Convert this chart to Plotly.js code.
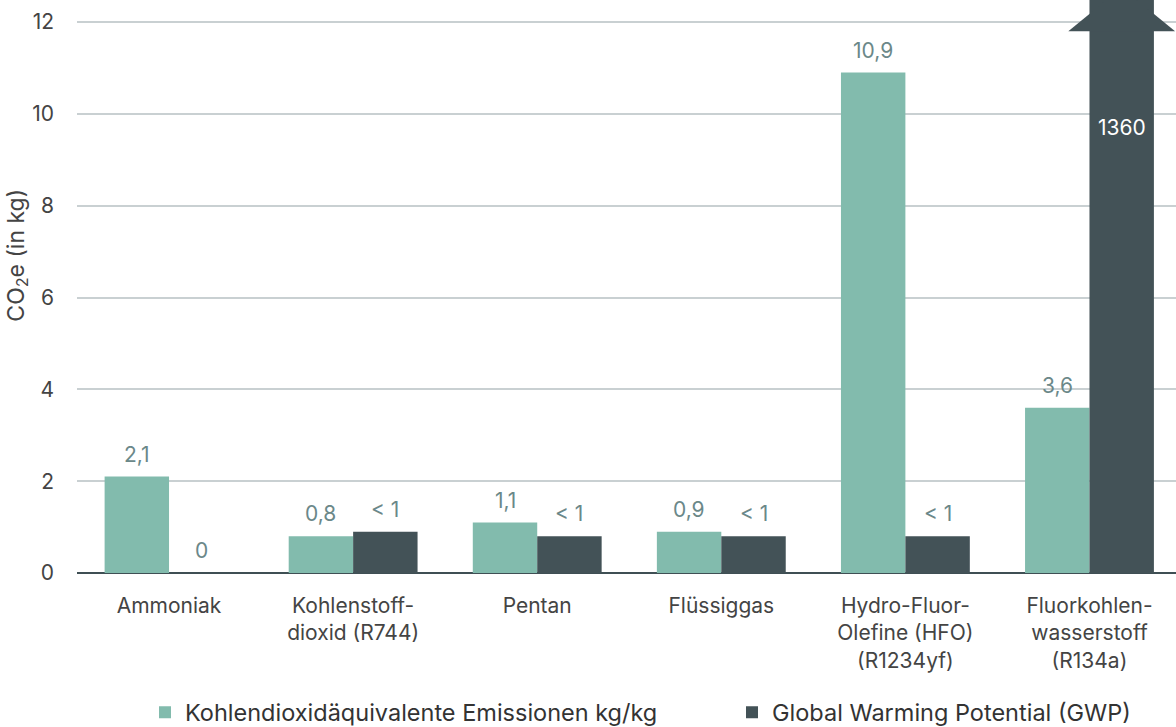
<!DOCTYPE html>
<html>
<head>
<meta charset="utf-8">
<script src="https://cdn.plot.ly/plotly-3.0.1.min.js"></script>
<style>html,body{margin:0;padding:0;background:#fff}#chart{width:1176px;height:727px}</style>
</head>
<body>
<div id="chart"></div>
<script>
const categories = ["Ammoniak", "Kohlenstoff-<br>dioxid (R744)", "Pentan", "Flüssiggas", "Hydro-Fluor-<br>Olefine (HFO)<br>(R1234yf)", "Fluorkohlen-<br>wasserstoff<br>(R134a)"];
const co2e = [2.1, 0.8, 1.1, 0.9, 10.9, 3.6];
const co2eLabels = ["2,1", "0,8", "1,1", "0,9", "10,9", "3,6"];
const gwp = [0, 0.9, 0.8, 0.8, 0.8, 1360];
const gwpLabels = ["0", "< 1", "< 1", "< 1", "< 1", "1360"];
const seriesNames = ["Kohlendioxidäquivalente Emissionen kg/kg", "Global Warming Potential (GWP)"];

const GREEN = "#82bbad", DARK = "#435257", LABEL = "#6b8889";
const FONT = "Inter, Roboto, sans-serif";
const yMax = 12.48;
const bargap = 0.3;
const barW = (1 - bargap) / 2;
const idx = categories.map((_, i) => i);

const traces = [
  {type: "bar", name: seriesNames[0], x: idx, y: co2e, marker: {color: GREEN}, hoverinfo: "none", legend: "legend"},
  {type: "bar", name: seriesNames[1], x: idx, y: gwp, marker: {color: DARK}, hoverinfo: "none", legend: "legend2"}
];

const annotations = [];
idx.forEach(i => {
  annotations.push({x: i - barW / 2, y: co2e[i], text: co2eLabels[i], showarrow: false, yanchor: "bottom", yshift: 8,
    font: {family: FONT, size: 21, color: LABEL}});
  if (gwp[i] < yMax) {
    annotations.push({x: i + barW / 2, y: gwp[i], text: gwpLabels[i], showarrow: false, yanchor: "bottom", yshift: 8,
      font: {family: FONT, size: 21, color: LABEL}});
  } else {
    annotations.push({x: i + barW / 2, y: 9.7, text: gwpLabels[i], showarrow: false, yanchor: "middle",
      font: {family: FONT, size: 21, color: "#ffffff"}});
  }
});
annotations.push({xref: "paper", yref: "paper", x: -0.054, y: 0.555, xanchor: "center", yanchor: "middle",
  text: "CO<sub>2</sub>e (in kg)", textangle: -90, showarrow: false, font: {family: FONT, size: 23, color: "#444"}});

// arrow head on bars that exceed the axis
const shapes = [];
idx.forEach(i => {
  if (gwp[i] > yMax) {
    const xc = i + barW / 2, hw = 0.29, base = 11.8, tip = 12.75;
    shapes.push({type: "path", xref: "x", yref: "y", layer: "above",
      path: `M ${xc - hw} ${base} L ${xc} ${tip} L ${xc + hw} ${base} Z`,
      fillcolor: DARK, line: {width: 0}});
  }
});

const legendBase = {orientation: "h", xref: "container", yref: "container", xanchor: "left", y: 0.02, yanchor: "middle",
  font: {family: FONT, size: 23.5, color: "#333"}, bgcolor: "rgba(0,0,0,0)"};

const layout = {
  width: 1176, height: 727,
  margin: {l: 77, r: 0, t: 0, b: 154},
  paper_bgcolor: "#fff", plot_bgcolor: "#fff",
  barmode: "group", bargap: bargap, bargroupgap: 0,
  font: {family: FONT, color: "#444"},
  xaxis: {
    tickmode: "array", tickvals: idx, ticktext: categories,
    range: [-0.5, 5.47], showgrid: false, zeroline: false, showline: false, ticks: "",
    tickfont: {family: FONT, size: 21, color: "#444"}, ticklabelstandoff: 18
  },
  yaxis: {
    range: [0, yMax], tickvals: [0, 2, 4, 6, 8, 10, 12], ticks: "",
    showgrid: true, gridcolor: "#c9d0d2", gridwidth: 2,
    zeroline: true, zerolinecolor: "#3f4f54", zerolinewidth: 2, showline: false,
    tickfont: {family: FONT, size: 21, color: "#444"}, ticklabelstandoff: 22
  },
  showlegend: true,
  legend: Object.assign({}, legendBase, {x: 145 / 1176}),
  legend2: Object.assign({}, legendBase, {x: 732 / 1176}),
  annotations: annotations,
  shapes: shapes
};

Plotly.newPlot("chart", traces, layout, {displayModeBar: false, staticPlot: true});
</script>
</body>
</html>
